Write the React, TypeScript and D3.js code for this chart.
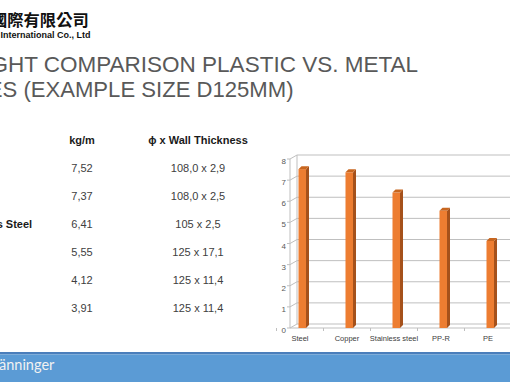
import React from "react";
import * as d3 from "d3";

const categories = ["Steel", "Copper", "Stainless steel", "PP-R", "PE", "PVC"];
const weights = [7.52, 7.37, 6.41, 5.55, 4.12, 3.91];
const tableNames = ["Steel", "Copper", "Stainless Steel", "PP-R", "PE", "PVC"];
const weightLabels = ["7,52", "7,37", "6,41", "5,55", "4,12", "3,91"];
const sizeLabels = ["108,0 x 2,9", "108,0 x 2,5", "105 x 2,5", "125 x 17,1", "125 x 11,4", "125 x 11,4"];
const yTicks = [0, 1, 2, 3, 4, 5, 6, 7, 8];

const W = 510;
const H = 382;
const FONT = "'Liberation Sans', Arial, sans-serif";

export default function App() {
  const x = d3.scaleBand<string>().domain(categories).range([276.5, 276.5 + 47 * categories.length]).padding(0);
  const y = d3.scaleLinear().domain([0, 8]).range([328, 159]);
  const axisX = 290;
  const wdx = 7;
  const wdy = -4;
  const bdx = 3;
  const bdy = -3;
  const rowY = d3.scaleLinear().domain([0, 1]).range([168, 196]);

  return (
    <svg width={W} height={H} style={{ position: "absolute", left: 0, top: 0, background: "#fff" }}>
      <rect x={0} y={0} width={W} height={H} fill="#fff" />
      {/* Logo */}
      <text x={-9} y={26} fontFamily="'Noto Sans CJK TC', sans-serif" fontWeight={700} fontSize={16.3} fill="#111">
        國際有限公司
      </text>
      <text x={0.5} y={38} fontFamily={FONT} fontWeight={700} fontSize={9} fill="#111">
        International Co., Ltd
      </text>
      {/* Title */}
      <text x={418} y={71.5} textAnchor="end" fontFamily={FONT} fontSize={22.5} fill="#595959">
        WEIGHT COMPARISON PLASTIC VS. METAL
      </text>
      <text x={293.5} y={97} textAnchor="end" fontFamily={FONT} fontSize={22.1} fill="#595959">
        PIPES (EXAMPLE SIZE D125MM)
      </text>
      {/* Table */}
      <g fontFamily={FONT} fontSize={11}>
        <text x={82} y={144} textAnchor="middle" fontWeight={700} fill="#1a1a1a">kg/m</text>
        <text x={198} y={144} textAnchor="middle" fontWeight={700} fill="#1a1a1a">ϕ x Wall Thickness</text>
        {tableNames.map((n, i) => (
          <g key={n + i}>
            <text x={-45.5} y={rowY(i) + 4} fontWeight={700} fill="#1a1a1a">{n}</text>
            <text x={82} y={rowY(i) + 4} textAnchor="middle" fill="#404040">{weightLabels[i]}</text>
            <text x={198} y={rowY(i) + 4} textAnchor="middle" fill="#404040">{sizeLabels[i]}</text>
          </g>
        ))}
      </g>
      {/* Chart walls */}
      <g stroke="#bfbfbf" strokeWidth={1} fill="none">
        {yTicks.map((t) => (
          <g key={t}>
            <line x1={axisX + wdx} x2={W} y1={y(t) + wdy} y2={y(t) + wdy} />
            <line x1={axisX} x2={axisX + wdx} y1={y(t)} y2={y(t) + wdy} />
            <line x1={axisX - 3} x2={axisX} y1={y(t)} y2={y(t)} />
          </g>
        ))}
        <line x1={axisX} x2={axisX} y1={y(0)} y2={y(8)} />
        <line x1={axisX + wdx} x2={axisX + wdx} y1={y(0) + wdy} y2={y(8) + wdy} />
        <line x1={axisX} x2={W} y1={y(0)} y2={y(0)} />
        {categories.map((c) => (
          <line key={c} x1={(x(c) as number)} x2={(x(c) as number)} y1={y(0)} y2={y(0) + 3} />
        ))}
      </g>
      {/* Y labels */}
      <g fontFamily={FONT} fontSize={8} fill="#595959">
        {yTicks.map((t) => (
          <text key={t} x={286} y={y(t) + 5} textAnchor="end">{t}</text>
        ))}
      </g>
      {/* Bars */}
      {categories.map((c, i) => {
        const cx = (x(c) as number) + x.bandwidth() / 2;
        const x0 = cx - 1.5;
        const x1 = cx + 6;
        const yt = y(weights[i]);
        const yb = y(0);
        return (
          <g key={c}>
            <rect x={x0} y={yt} width={x1 - x0} height={yb - yt} fill="#ed7d31" />
            <polygon
              points={`${x1},${yt} ${x1 + bdx},${yt + bdy} ${x1 + bdx},${yb + bdy} ${x1},${yb}`}
              fill="#a5511b"
            />
            <polygon
              points={`${x0},${yt} ${x0 + bdx},${yt + bdy} ${x1 + bdx},${yt + bdy} ${x1},${yt}`}
              fill="#c8661f"
            />
          </g>
        );
      })}
      {/* X labels */}
      <g fontFamily={FONT} fontSize={7.5} fill="#404040">
        {categories.map((c) => (
          <text key={c} x={(x(c) as number) + x.bandwidth() / 2} y={341} textAnchor="middle">{c}</text>
        ))}
      </g>
      {/* Footer */}
      <rect x={0} y={352} width={W} height={2.5} fill="#4a7ebb" />
      <rect x={0} y={354.5} width={W} height={H - 354.5} fill="#5b9bd5" />
      <text x={-1} y={370} fontFamily="Lato, 'Open Sans', sans-serif" fontSize={14.5} fill="#f2f2f2">
        änninger
      </text>
    </svg>
  );
}
